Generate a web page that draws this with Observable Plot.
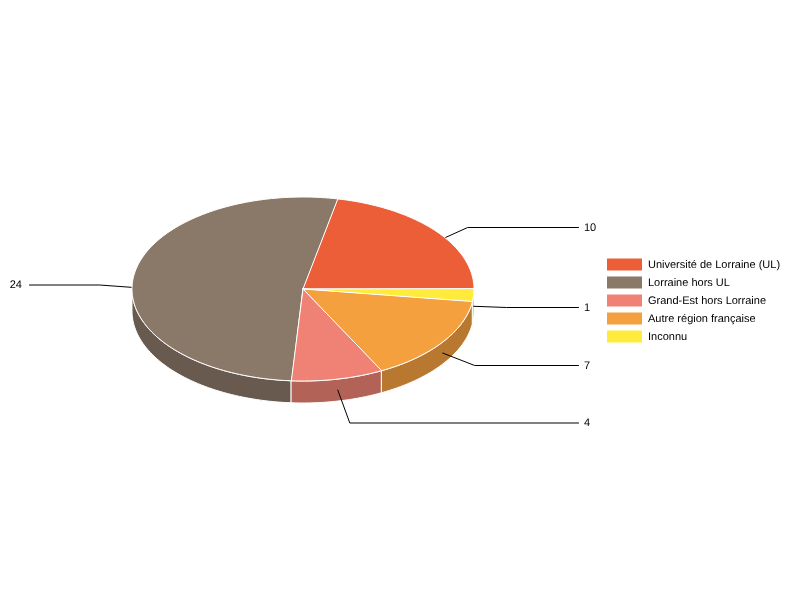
<!DOCTYPE html>
<html>
<head>
<meta charset="utf-8">
<script src="https://cdn.jsdelivr.net/npm/d3@7"></script>
<script src="https://cdn.jsdelivr.net/npm/@observablehq/plot@0.6"></script>
<style>
html,body{margin:0;padding:0;background:#fff}
svg{display:block;will-change:transform}
svg text{text-rendering:geometricPrecision}
</style>
</head>
<body>
<div id="chart"></div>
<script>
const categories = ["Université de Lorraine (UL)", "Lorraine hors UL", "Grand-Est hors Lorraine", "Autre région française", "Inconnu"];
const values = [10, 24, 4, 7, 1];
const colors = ["#EB5E37", "#8A7868", "#EF8275", "#F5A03E", "#FFEB3B"];
const sideColors = colors.map(c => { const r = d3.rgb(c); return d3.rgb(r.r * 0.75, r.g * 0.75, r.b * 0.75).formatHex(); });

// layout of the pie
const cx = 302.5, cy = 288.5, rx = 171, ry = 92, depth = 22;
const elbowOffset = [32, -34, 12, 32, 33];
const labelY = [227, 284.5, 422.5, 365, 307];
const leaderEnd = 578, leaderEndLeft = 29, labelRightX = 583.5, labelLeftX = 21.5;
const legendX1 = 607, legendX2 = 642, legendTextX = 647.5, legendY = 258.5, legendStep = 18, legendH = 12;

const total = d3.sum(values);
const rad = d => d * Math.PI / 180;
const px = a => cx + rx * Math.cos(rad(a));
const py = a => cy - ry * Math.sin(rad(a));

let acc = 0;
const slices = categories.map((name, i) => {
  const a0 = acc / total * 360;
  acc += values[i];
  const a1 = acc / total * 360;
  return {name, i, value: values[i], a0, a1, mid: (a0 + a1) / 2, color: colors[i], side: sideColors[i]};
});

function arc(a0, a1) {
  const n = Math.max(2, Math.ceil((a1 - a0) / 1.5));
  return d3.range(n + 1).map(k => a0 + (a1 - a0) * k / n);
}

const topPts = slices.flatMap(s => [
  {i: s.i, fill: s.color, x: cx, y: cy},
  ...arc(s.a0, s.a1).map(a => ({i: s.i, fill: s.color, x: px(a), y: py(a)}))
]);

const wallPts = slices.filter(s => s.a1 > 180).flatMap(s => {
  const as = arc(Math.max(s.a0, 180), s.a1);
  return [
    ...as.map(a => ({i: s.i, fill: s.side, x: px(a), y: py(a)})),
    ...as.slice().reverse().map(a => ({i: s.i, fill: s.side, x: px(a), y: py(a) + depth}))
  ];
});

const leaderPts = slices.flatMap(s => {
  const x0 = px(s.mid), y0 = py(s.mid) + depth / 2;
  const left = elbowOffset[s.i] < 0;
  return [
    {i: s.i, x: x0, y: y0},
    {i: s.i, x: x0 + elbowOffset[s.i], y: labelY[s.i]},
    {i: s.i, x: left ? leaderEndLeft : leaderEnd, y: labelY[s.i]}
  ];
});

const labels = slices.map(s => ({
  text: String(s.value),
  left: elbowOffset[s.i] < 0,
  x: elbowOffset[s.i] < 0 ? labelLeftX : labelRightX,
  y: Math.floor(labelY[s.i])
}));

const legend = slices.map(s => ({
  name: s.name, color: s.color,
  y1: legendY + s.i * legendStep, y2: legendY + s.i * legendStep + legendH,
  ym: legendY + s.i * legendStep + legendH / 2 - 1
}));

const textOpts = {fontSize: 11, fill: "#000", fontFamily: "Liberation Sans, Arial, sans-serif"};

const chart = Plot.plot({
  width: 800, height: 600,
  margin: 0,
  style: {background: "#fff", fontFamily: "Liberation Sans, Arial, sans-serif"},
  x: {domain: [0, 800], range: [0, 800], axis: null},
  y: {domain: [0, 600], range: [0, 600], axis: null},
  color: {type: "identity"},
  marks: [
    Plot.line(wallPts, {x: "x", y: "y", z: "i", fill: "fill", stroke: "#fff", strokeWidth: 1, curve: "linear-closed"}),
    Plot.line(leaderPts, {x: "x", y: "y", z: "i", stroke: "#000", strokeWidth: 1, curve: "linear"}),
    Plot.line(topPts, {x: "x", y: "y", z: "i", fill: "fill", stroke: "#fff", strokeWidth: 1, curve: "linear-closed"}),
    Plot.text(labels.filter(d => !d.left), {x: "x", y: "y", text: "text", textAnchor: "start", ...textOpts}),
    Plot.text(labels.filter(d => d.left), {x: "x", y: "y", text: "text", textAnchor: "end", ...textOpts}),
    Plot.rect(legend, {x1: () => legendX1, x2: () => legendX2, y1: "y1", y2: "y2", fill: "color", inset: 0}),
    Plot.text(legend, {x: () => legendTextX, y: "ym", text: "name", textAnchor: "start", ...textOpts})
  ]
});
document.getElementById("chart").appendChild(chart);
</script>
</body>
</html>
